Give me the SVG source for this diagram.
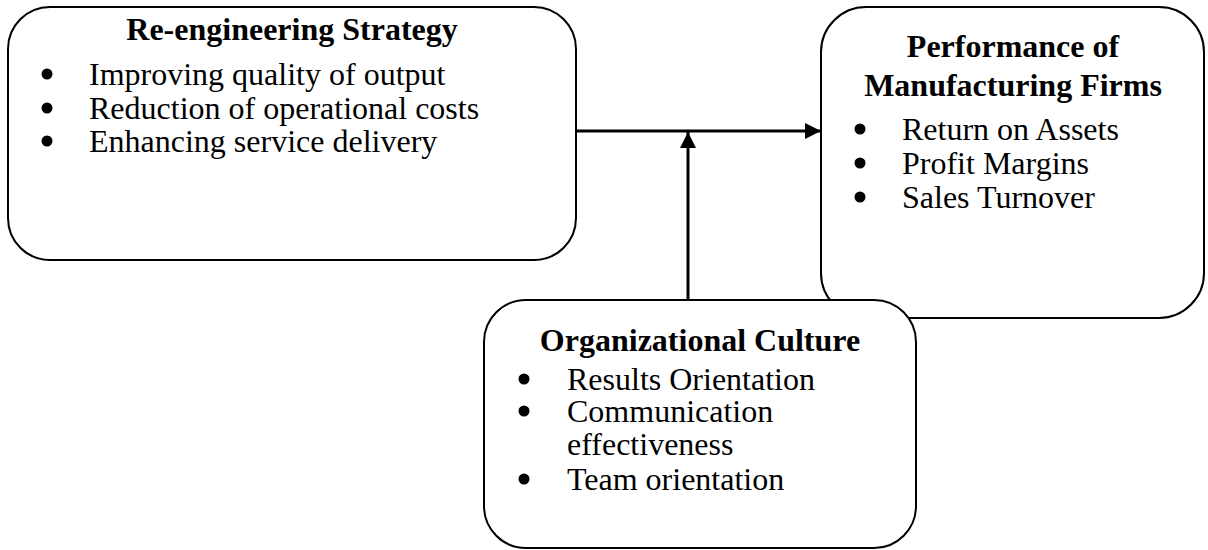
<svg xmlns="http://www.w3.org/2000/svg" width="1208" height="550" viewBox="0 0 1208 550">
<style>
.box{fill:#fff;stroke:#000;stroke-width:2}
.t{font-family:"Liberation Serif","Times New Roman",serif;font-size:32px;fill:#000}
.b{font-weight:bold;text-anchor:middle}
.line{stroke:#000;stroke-width:3;fill:none}
</style>
<defs>
<marker id="ah" markerWidth="16" markerHeight="16" refX="16" refY="8" orient="auto" markerUnits="userSpaceOnUse">
<path d="M0,0 L16,8 L0,16 Z" fill="#000"/>
</marker>
</defs>
<rect width="1208" height="550" fill="#fff"/>
<g id="connectors">
<line class="line" x1="576" y1="131" x2="821" y2="131" marker-end="url(#ah)"/>
<line class="line" x1="688" y1="300" x2="688" y2="132" marker-end="url(#ah)"/>
</g>
<g id="reengineering">
<rect class="box" x="8" y="7" width="568" height="253" rx="42"/>
<text class="t b" x="292" y="40">Re-engineering Strategy</text>
<circle cx="47" cy="74" r="5.5"/><text class="t" x="89" y="85">Improving quality of output</text>
<circle cx="47" cy="108" r="5.5"/><text class="t" x="89" y="119">Reduction of operational costs</text>
<circle cx="47" cy="141" r="5.5"/><text class="t" x="89" y="152">Enhancing service delivery</text>
</g>
<g id="performance">
<rect class="box" x="821" y="7" width="383" height="311" rx="45"/>
<text class="t b" x="1013" y="57">Performance of</text>
<text class="t b" x="1013" y="96">Manufacturing Firms</text>
<circle cx="860" cy="129" r="5.5"/><text class="t" x="902" y="140">Return on Assets</text>
<circle cx="860" cy="163" r="5.5"/><text class="t" x="902" y="174">Profit Margins</text>
<circle cx="860" cy="197" r="5.5"/><text class="t" x="902" y="208">Sales Turnover</text>
</g>
<g id="culture">
<rect class="box" x="484" y="300" width="432" height="248" rx="42"/>
<text class="t b" x="700" y="351">Organizational Culture</text>
<circle cx="524" cy="379" r="5.5"/><text class="t" x="567" y="390">Results Orientation</text>
<circle cx="524" cy="411" r="5.5"/><text class="t" x="567" y="422">Communication</text>
<text class="t" x="567" y="455">effectiveness</text>
<circle cx="524" cy="479" r="5.5"/><text class="t" x="567" y="490">Team orientation</text>
</g>
</svg>
